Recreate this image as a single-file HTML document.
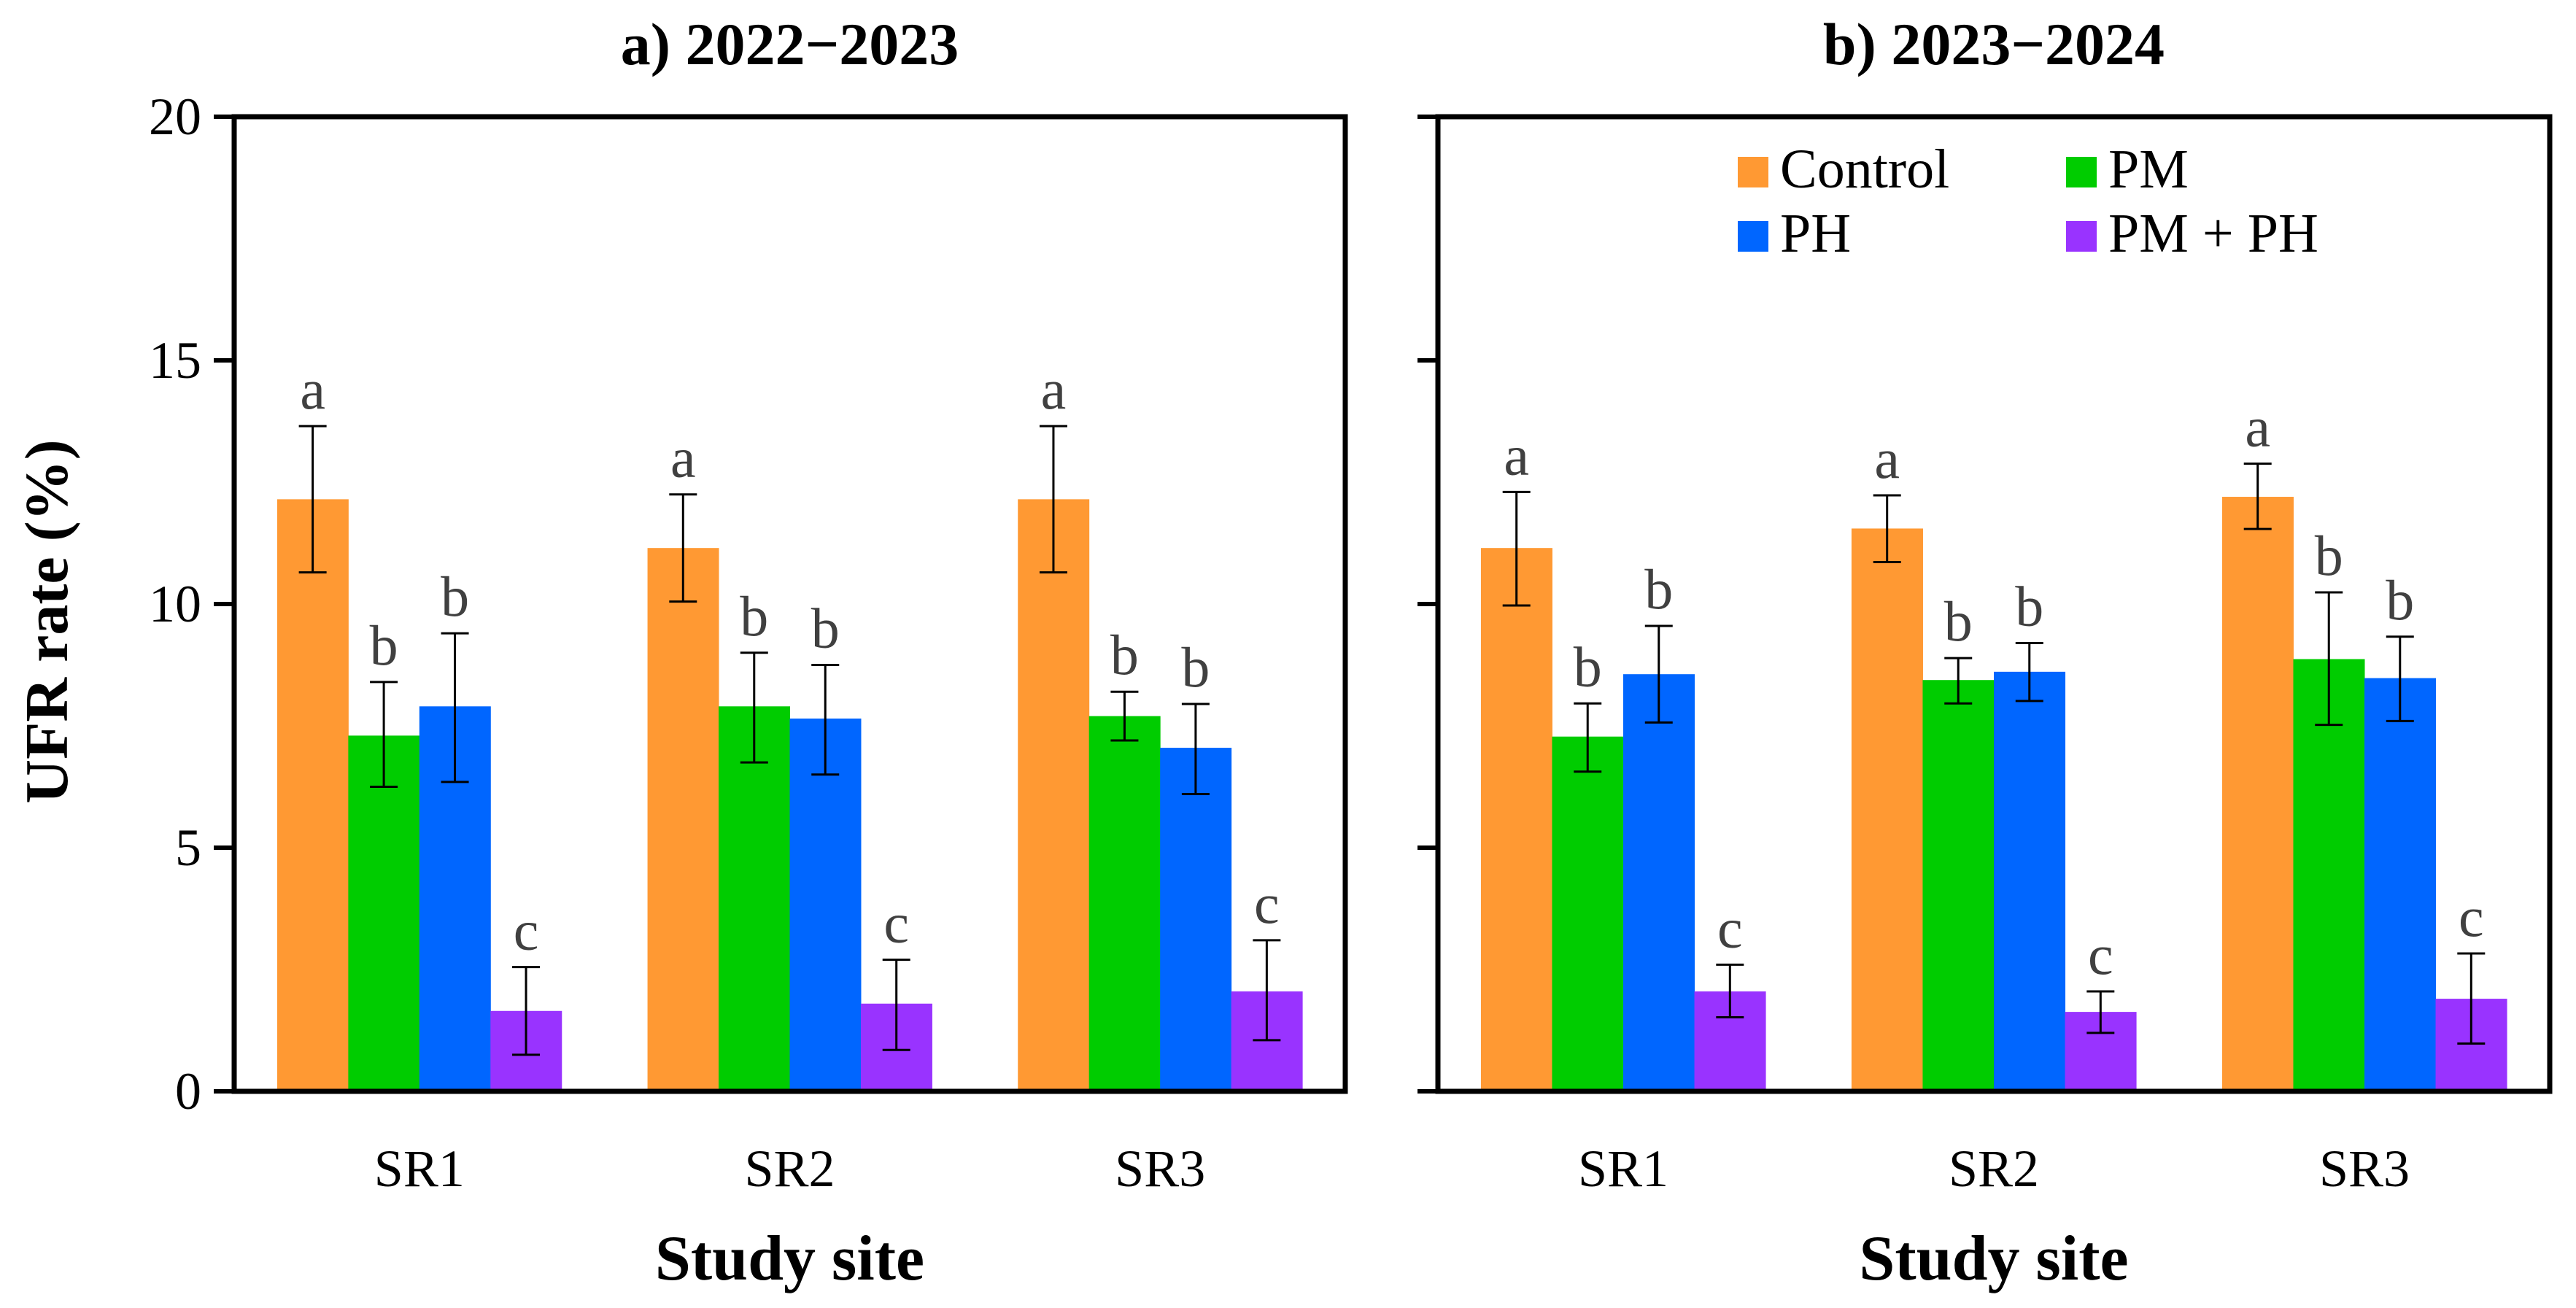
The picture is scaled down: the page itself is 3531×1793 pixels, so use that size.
<!DOCTYPE html>
<html><head><meta charset="utf-8"><style>
html,body{margin:0;padding:0;background:#fff;}
svg{display:block;font-family:"Liberation Serif",serif;}
</style></head><body>
<svg id="chart" width="3531" height="1793" viewBox="0 0 3531 1793" xmlns="http://www.w3.org/2000/svg">
<g id="root"></g>
</svg>
<script>
const sites = ["SR1","SR2","SR3"];
const treatments = ["Control","PM","PH","PM + PH"];
const colors = ["#FF9933","#00CC00","#0066FF","#9933FF"];
const yTicks = [0,5,10,15,20];
// panel a) 2022-2023 : rows = treatments, cols = sites
const meanA = [[12.15,11.15,12.15],[7.3,7.9,7.7],[7.9,7.65,7.05],[1.65,1.8,2.05]];
const loA = [[10.65,10.05,10.65],[6.25,6.75,7.2],[6.35,6.5,6.1],[0.75,0.85,1.05]];
const hiA = [[13.65,12.25,13.65],[8.4,9.0,8.2],[9.4,8.75,7.95],[2.55,2.7,3.1]];
const letA = [["a","a","a"],["b","b","b"],["b","b","b"],["c","c","c"]];
// panel b) 2023-2024
const meanB = [[11.15,11.55,12.2],[7.28,8.44,8.87],[8.56,8.61,8.48],[2.05,1.63,1.9]];
const loB = [[9.97,10.86,11.54],[6.56,7.96,7.52],[7.57,8.01,7.6],[1.52,1.2,0.98]];
const hiB = [[12.3,12.23,12.88],[7.96,8.89,10.24],[9.55,9.2,9.33],[2.6,2.05,2.83]];
const letB = [["a","a","a"],["b","b","b"],["b","b","b"],["c","c","c"]];

const NS="http://www.w3.org/2000/svg";
const root=document.getElementById('root');
function mk(tag,attrs,parent){const e=document.createElementNS(NS,tag);for(const k in attrs)e.setAttribute(k,attrs[k]);(parent||root).appendChild(e);return e;}
const Y0=1496,Y1=160;
function ys(v){return Y0-(v/20)*(Y0-Y1);}

function panel(x0,x1,title,mean,lo,hi,let_,showLabels,pname){
  const g=mk('g',{});
  
  
  const slot=(x1-x0)/3, bw=slot*0.192;
  const t=mk('text',{x:(x0+x1)/2,y:88,'text-anchor':'middle','font-size':82,'font-weight':'bold',fill:'#000'},g);
  t.textContent=title;
  
  
  for(let s=0;s<sites.length;s++){
    const cx=x0+slot*(s+0.5);
    for(let i=0;i<treatments.length;i++){
      const bx=cx-2*bw+i*bw;
      const r=mk('rect',{x:bx,y:ys(mean[i][s]),width:bw+0.5,height:Y0-ys(mean[i][s]),fill:colors[i]},g);
      
      
      const ex=bx+bw/2;
      const eb=mk('path',{d:`M${ex-19},${ys(hi[i][s])}H${ex+19}M${ex},${ys(hi[i][s])}V${ys(lo[i][s])}M${ex-19},${ys(lo[i][s])}H${ex+19}`,stroke:'#000','stroke-width':3,fill:'none'},g);
      
      
      const lt=mk('text',{x:ex,y:ys(hi[i][s])-24,'text-anchor':'middle','font-size':78,fill:'#404040'},g);
      lt.textContent=let_[i][s];
      
      
    }
    const xl=mk('text',{x:cx,y:1626,'text-anchor':'middle','font-size':72,fill:'#000'},g);
    xl.textContent=sites[s];
    
    
  }
  for(const v of yTicks){
    const tk=mk('line',{x1:x0-28,x2:x0,y1:ys(v),y2:ys(v),stroke:'#000','stroke-width':6},g);
    
    
    if(showLabels){
      const tl=mk('text',{x:x0-45,y:ys(v)+24,'text-anchor':'end','font-size':72,fill:'#000'},g);
      tl.textContent=v;
      
      
    }
  }
  const fr=mk('rect',{x:x0,y:Y1,width:x1-x0,height:Y0-Y1,fill:'none',stroke:'#000','stroke-width':7},g);
  
  
  const xt=mk('text',{x:(x0+x1)/2,y:1754,'text-anchor':'middle','font-size':88,'font-weight':'bold',fill:'#000'},g);
  xt.textContent='Study site';
  
  
}
panel(321,1844,'a) 2022\u22122023',meanA,loA,hiA,letA,true,'panel-a');
panel(1971,3495,'b) 2023\u22122024',meanB,loB,hiB,letB,false,'panel-b');

const yt=mk('text',{x:0,y:0,transform:'translate(92,852) rotate(-90)','text-anchor':'middle','font-size':84,'font-weight':'bold',fill:'#000'});
yt.textContent='UFR rate (%)';



const lg=mk('g',{});


const lpos=[[2382,215],[2832,215],[2382,303],[2832,303]];
for(let i=0;i<treatments.length;i++){
  const e=mk('g',{},lg);
  
  
  mk('rect',{x:lpos[i][0],y:lpos[i][1],width:42,height:42,fill:colors[i]},e);
  const tx=mk('text',{x:lpos[i][0]+58,y:lpos[i][1]+42,'font-size':76,fill:'#000'},e);
  tx.textContent=treatments[i];
}
</script>
</body></html>
